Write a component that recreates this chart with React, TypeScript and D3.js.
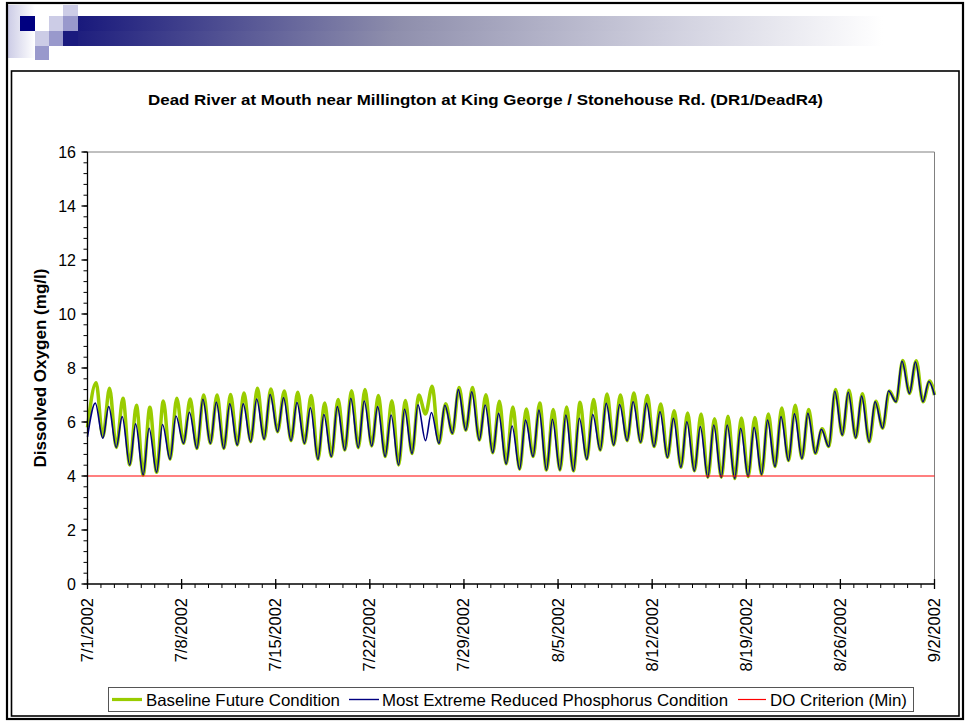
import React from "react";
import * as d3 from "d3";

// ---------- data ----------
const chartTitle =
  "Dead River at Mouth near Millington at King George / Stonehouse Rd. (DR1/DeadR4)";
const yAxisTitle = "Dissolved Oxygen (mg/l)";
const seriesNames = [
  "Baseline Future Condition",
  "Most Extreme Reduced Phosphorus Condition",
  "DO Criterion (Min)",
];
const startDateLabel = "7/1/2002";
const endDateLabel = "9/2/2002";
const xTickLabels = [
  "7/1/2002", "7/8/2002", "7/15/2002", "7/22/2002", "7/29/2002",
  "8/5/2002", "8/12/2002", "8/19/2002", "8/26/2002", "9/2/2002",
];
const yTickValues = [0, 2, 4, 6, 8, 10, 12, 14, 16];
const yMinorStep = 0.4;
const doCriterion = 4;

// daily extremes (one per day starting 7/1/2002)
const troughDayFraction = 0.14; // early morning minimum
const baselinePeakDayFraction = 0.64; // afternoon maximum
const reducedPeakDayFraction = 0.58;

const baselinePeaks = [
  7.45, 7.25, 6.88, 6.62, 6.55, 6.78, 6.88, 6.85, 7.0, 7.0,
  7.02, 7.07, 7.25, 7.22, 7.15, 7.1, 6.98, 6.7, 6.83, 7.16,
  7.2, 6.98, 6.79, 6.8, 7.0, 7.32, 6.68, 7.28, 7.28, 7.01,
  6.77, 6.56, 6.48, 6.7, 6.46, 6.56, 6.73, 6.83, 7.04, 7.0,
  7.07, 6.98, 6.67, 6.42, 6.33, 6.3, 6.12, 6.21, 6.15, 6.17,
  6.3, 6.52, 6.62, 6.46, 5.75, 7.2, 7.18, 7.05, 6.77, 7.15,
  8.28, 8.27, 7.52,
];
const baselineTroughs = [
  5.8, 5.45, 5.06, 4.41, 4.04, 4.14, 4.62, 5.21, 5.02, 5.21,
  5.02, 5.15, 5.27, 5.37, 5.64, 5.31, 5.21, 4.62, 4.72, 4.96,
  5.05, 5.11, 4.72, 4.41, 4.83, 6.3, 5.21, 5.58, 5.7, 5.33,
  4.86, 4.45, 4.25, 4.72, 4.22, 4.22, 4.19, 4.62, 4.96, 5.15,
  5.31, 5.25, 5.09, 4.69, 4.32, 4.19, 3.95, 3.95, 3.91, 3.98,
  4.06, 4.35, 4.57, 4.65, 4.84, 5.09, 5.52, 5.42, 5.27, 5.77,
  6.75, 7.06, 6.75,
];
const baselineEnd = 7.0;

const reducedPeaks = [
  6.7, 6.57, 6.2, 5.93, 5.77, 5.91, 6.22, 6.36, 6.84, 6.73,
  6.67, 6.67, 6.85, 7.02, 6.9, 6.72, 6.53, 6.28, 6.57, 6.88,
  6.78, 6.57, 6.26, 6.47, 6.64, 6.35, 6.62, 7.2, 7.12, 6.63,
  6.32, 5.85, 6.07, 6.44, 6.1, 6.26, 6.14, 6.28, 6.69, 6.65,
  6.75, 6.69, 6.38, 6.14, 6.01, 5.83, 5.89, 5.89, 5.77, 5.8,
  6.07, 6.2, 6.3, 6.32, 5.73, 7.14, 7.1, 6.96, 6.75, 7.15,
  8.25, 8.22, 7.5,
];
const reducedTroughs = [
  5.45, 5.4, 5.06, 4.41, 4.04, 4.14, 4.62, 5.21, 5.02, 5.21,
  5.02, 5.15, 5.27, 5.37, 5.64, 5.31, 5.21, 4.62, 4.72, 4.96,
  5.05, 5.11, 4.72, 4.41, 4.83, 5.31, 5.21, 5.58, 5.7, 5.33,
  4.86, 4.45, 4.25, 4.72, 4.22, 4.22, 4.19, 4.62, 4.96, 5.15,
  5.31, 5.25, 5.09, 4.69, 4.32, 4.19, 3.95, 3.95, 3.91, 3.98,
  4.06, 4.35, 4.57, 4.65, 4.84, 5.09, 5.52, 5.42, 5.27, 5.77,
  6.75, 7.06, 6.75,
];
const reducedEnd = 7.0;

// ---------- helpers ----------
const parse = d3.utcParse("%m/%d/%Y");
const DAY = 86400000;
const FONT = "'Liberation Sans', Arial, Helvetica, sans-serif";

type Pt = { t: Date; v: number };

function buildSeries(peaks: number[], troughs: number[], end: number, peakFrac: number): Pt[] {
  const start = parse(startDateLabel)!.getTime();
  const pts: Pt[] = [];
  for (let k = 0; k < peaks.length; k++) {
    const tt = k === 0 ? 0 : k + troughDayFraction;
    pts.push({ t: new Date(start + tt * DAY), v: troughs[k] });
    pts.push({ t: new Date(start + (k + peakFrac) * DAY), v: peaks[k] });
  }
  pts.push({ t: parse(endDateLabel)!, v: end });
  return pts;
}

export default function App() {
  const W = 966;
  const H = 721;
  const plot = { left: 87.5, right: 934.5, top: 152, bottom: 584 };

  const x = d3
    .scaleUtc()
    .domain([parse(startDateLabel)!, parse(endDateLabel)!])
    .range([plot.left, plot.right]);
  const y = d3.scaleLinear().domain([0, 16]).range([plot.bottom, plot.top]);

  const line = d3
    .line<Pt>()
    .x((d) => x(d.t))
    .y((d) => y(d.v))
    .curve(d3.curveMonotoneX);

  const baseline = buildSeries(baselinePeaks, baselineTroughs, baselineEnd, baselinePeakDayFraction);
  const reduced = buildSeries(reducedPeaks, reducedTroughs, reducedEnd, reducedPeakDayFraction);

  const xMinor = d3.utcDay.range(parse(startDateLabel)!, new Date(parse(endDateLabel)!.getTime() + 1));
  const yMinor = d3.range(0, 16 + 1e-6, yMinorStep);

  const legendY = 699.5;

  return (
    <svg
      width={W}
      height={H}
      style={{ position: "absolute", left: 0, top: 0, display: "block", background: "#fff" }}
      fontFamily={FONT}
    >
      <defs>
        <linearGradient id="hdrBar" x1="0" x2="1" y1="0" y2="0">
          <stop offset="0" stopColor="#19197c" />
          <stop offset="0.4" stopColor="#8e8eac" />
          <stop offset="0.75" stopColor="#d2d2e0" />
          <stop offset="1" stopColor="#ffffff" />
        </linearGradient>
        <linearGradient id="hdrCol" x1="0" x2="1" y1="0" y2="0">
          <stop offset="0" stopColor="#ccccE6" />
          <stop offset="1" stopColor="#ffffff" />
        </linearGradient>
      </defs>

      <rect x={0} y={0} width={W} height={H} fill="#fff" />

      {/* slide header decoration */}
      <rect x={8} y={5} width={27} height={53} fill="url(#hdrCol)" />
      <rect x={63} y={31} width={820} height={15} fill="url(#hdrBar)" />
      <rect x={78} y={16} width={805} height={15} fill="url(#hdrBar)" />
      <rect x={20} y={16} width={15} height={15} fill="#000080" />
      <rect x={49} y={16} width={14} height={15} fill="#ccccE6" />
      <rect x={63} y={16} width={15} height={15} fill="#9999cc" />
      <rect x={63} y={5} width={15} height={11} fill="#ccccE6" />
      <rect x={35} y={31} width={14} height={15} fill="#ccccE6" />
      <rect x={49} y={31} width={14} height={15} fill="#9999cc" />
      <rect x={35} y={46} width={14} height={14} fill="#9999cc" />
      <rect x={63} y={31} width={15} height={15} fill="#1a1a7e" />

      {/* frames */}
      <rect x={7} y={3} width={956} height={716} fill="none" stroke="#000" strokeWidth={2.2} />
      <rect x={11.5} y={71} width={947.5} height={645} fill="none" stroke="#000" strokeWidth={1.6} />

      {/* title */}
      <text
        x={485.5}
        y={105}
        textAnchor="middle"
        fontWeight="bold"
        fontSize={15}
        textLength={675}
        lengthAdjust="spacingAndGlyphs"
      >
        {chartTitle}
      </text>

      {/* plot area border (top/right grey) */}
      <line x1={plot.left} x2={plot.right} y1={plot.top} y2={plot.top} stroke="#808080" strokeWidth={1} />
      <line x1={plot.right} x2={plot.right} y1={plot.top} y2={plot.bottom} stroke="#808080" strokeWidth={1} />

      {/* series */}
      <path d={line(baseline) || ""} fill="none" stroke="#99cc00" strokeWidth={3.5} strokeLinejoin="round" />
      <path d={line(reduced) || ""} fill="none" stroke="#000080" strokeWidth={1.6} strokeLinejoin="round" />
      <line
        x1={plot.left}
        x2={plot.right}
        y1={y(doCriterion)}
        y2={y(doCriterion)}
        stroke="#ff0000"
        strokeWidth={1.2}
      />

      {/* y axis */}
      <line x1={plot.left} x2={plot.left} y1={plot.top} y2={plot.bottom} stroke="#000" strokeWidth={1.3} />
      {yMinor.map((v, i) => (
        <line key={"ym" + i} x1={plot.left - 4} x2={plot.left} y1={y(v)} y2={y(v)} stroke="#000" strokeWidth={1} />
      ))}
      {yTickValues.map((v) => (
        <g key={"yt" + v}>
          <line x1={plot.left - 6} x2={plot.left} y1={y(v)} y2={y(v)} stroke="#000" strokeWidth={1.3} />
          <text x={76} y={y(v) + 5.5} textAnchor="end" fontSize={16} fill="#000">
            {String(v)}
          </text>
        </g>
      ))}
      <text
        x={0}
        y={0}
        transform={`translate(45.5, ${(plot.top + plot.bottom) / 2}) rotate(-90)`}
        textAnchor="middle"
        fontWeight="bold"
        fontSize={16}
        textLength={199}
        lengthAdjust="spacingAndGlyphs"
      >
        {yAxisTitle}
      </text>

      {/* x axis */}
      <line x1={plot.left} x2={plot.right} y1={plot.bottom} y2={plot.bottom} stroke="#000" strokeWidth={1.3} />
      {xMinor.map((d, i) => (
        <line key={"xm" + i} x1={x(d)} x2={x(d)} y1={plot.bottom} y2={plot.bottom + 4} stroke="#000" strokeWidth={1} />
      ))}
      {xTickLabels.map((lab) => {
        const xx = x(parse(lab)!);
        return (
          <g key={lab}>
            <line x1={xx} x2={xx} y1={plot.bottom - 5} y2={plot.bottom + 5} stroke="#000" strokeWidth={1.3} />
            <text
              transform={`translate(${xx + 5.5}, 598) rotate(-90)`}
              textAnchor="end"
              fontSize={16.5}
              fill="#000"
            >
              {lab}
            </text>
          </g>
        );
      })}

      {/* legend */}
      <rect x={108.5} y={687.5} width={805} height={24} fill="#fff" stroke="#555" strokeWidth={1} />
      <line x1={112} x2={142} y1={legendY} y2={legendY} stroke="#99cc00" strokeWidth={3.2} />
      <text x={146} y={legendY + 6} fontSize={16.5} textLength={194} lengthAdjust="spacingAndGlyphs">
        {seriesNames[0]}
      </text>
      <line x1={349} x2={379} y1={legendY} y2={legendY} stroke="#000080" strokeWidth={1.4} />
      <text x={382} y={legendY + 6} fontSize={16.5} textLength={346} lengthAdjust="spacingAndGlyphs">
        {seriesNames[1]}
      </text>
      <line x1={738} x2={766} y1={legendY} y2={legendY} stroke="#ff0000" strokeWidth={1.2} />
      <text x={770} y={legendY + 6} fontSize={16.5} textLength={137} lengthAdjust="spacingAndGlyphs">
        {seriesNames[2]}
      </text>
    </svg>
  );
}
